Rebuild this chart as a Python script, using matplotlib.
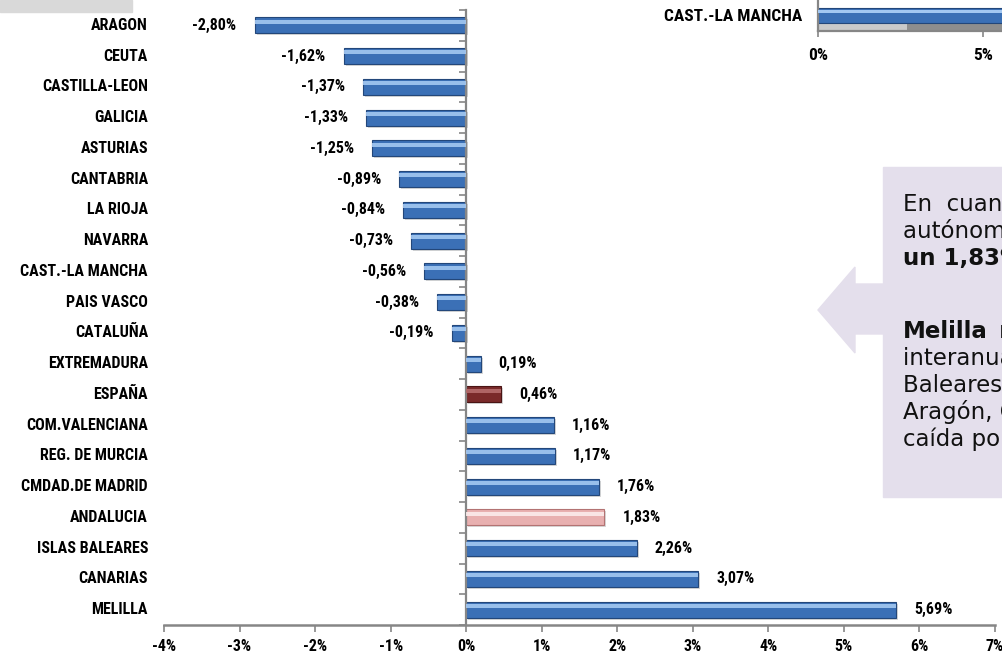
import numpy as np
import matplotlib
matplotlib.use('Agg')
import matplotlib.pyplot as plt
from matplotlib.patches import Rectangle, Polygon
from matplotlib import transforms

# data
regions = ['ARAGON', 'CEUTA', 'CASTILLA-LEON', 'GALICIA', 'ASTURIAS', 'CANTABRIA',
           'LA RIOJA', 'NAVARRA', 'CAST.-LA MANCHA', 'PAIS VASCO', 'CATALUÑA',
           'EXTREMADURA', 'ESPAÑA', 'COM.VALENCIANA', 'REG. DE MURCIA',
           'CMDAD.DE MADRID', 'ANDALUCIA', 'ISLAS BALEARES', 'CANARIAS', 'MELILLA']
variation = [-2.80, -1.62, -1.37, -1.33, -1.25, -0.89, -0.84, -0.73, -0.56, -0.38,
             -0.19, 0.19, 0.46, 1.16, 1.17, 1.76, 1.83, 2.26, 3.07, 5.69]
x_ticks = [-4, -3, -2, -1, 0, 1, 2, 3, 4, 5, 6, 7]

# partial second chart visible in the top right corner
inset_regions = ['CAST.-LA MANCHA']
inset_blue = [6.5]
inset_grey_a = [2.7]
inset_grey_b = [4.0]
inset_ticks = [0, 5]

box_lines = ['En  cuanto  a  las  comunidades',
             'autónomas, Andalucía crece',
             'un 1,83%',
             'Melilla',
             'interanual más elevada, seguida de',
             'Baleares y Canarias. Por el contrario,',
             'Aragón, Ceuta y Castilla-León',
             'caída porcentual más acusada.']
box_bold = [False, False, True, True, False, False, False, False]

W, H = 1003, 653
narrow = ['Roboto Condensed', 'Liberation Sans Narrow', 'DejaVu Sans Condensed']
grey = '#868686'
fs = 11.5

# colours per bar
bar_face = []
bar_light = []
bar_edge = []
for r in regions:
    if r == 'ESPAÑA':
        bar_face.append('#7A2A2A'); bar_light.append('#B56C6C'); bar_edge.append('#4A1414')
    elif r == 'ANDALUCIA':
        bar_face.append('#E8B0B0'); bar_light.append('#FCEBEB'); bar_edge.append('#B37373')
    else:
        bar_face.append('#3B70B6'); bar_light.append('#A3C8F2'); bar_edge.append('#23477A')


def fpos(x, y):
    # pixel position -> figure fraction
    return (x / W, 1 - y / H)


fig = plt.figure(figsize=(W / 100, H / 100), dpi=100)
fig.patch.set_facecolor('white')

ax = fig.add_axes([164 / W, 1 - 625 / H, 831 / W, 615 / H])
ypos = np.arange(len(regions))
bh = 0.52

shadow = transforms.offset_copy(ax.transData, fig=fig, x=2, y=-2, units='dots')
ax.barh(ypos, variation, height=bh, color='#BDBDBD', alpha=0.6, transform=shadow, zorder=1)
ax.barh(ypos, variation, height=bh, color=bar_face, edgecolor=bar_edge, linewidth=0.8, zorder=2)
ax.barh(ypos - 0.12, variation, height=0.13, color=bar_light, linewidth=0, alpha=0.9, zorder=3)

ax.set_xlim(-4, 7)
ax.set_ylim(len(regions) - 0.5, -0.5)

for s in ['top', 'right']:
    ax.spines[s].set_visible(False)
ax.spines['left'].set_position(('data', 0))
ax.spines['left'].set_color(grey)
ax.spines['left'].set_linewidth(1.6)
ax.spines['bottom'].set_color(grey)
ax.spines['bottom'].set_linewidth(1.8)

ax.set_yticks(np.arange(len(regions) + 1) - 0.5)
ax.set_yticklabels([])
ax.tick_params(axis='y', length=5, width=1.2, color=grey, direction='out')

ax.set_xticks(x_ticks)
ax.set_xticklabels([f'{t}%' for t in x_ticks], fontsize=fs, fontweight='bold',
                   family=narrow)
ax.tick_params(axis='x', length=5, width=1.2, color=grey, pad=5)

for i, (name, v) in enumerate(zip(regions, variation)):
    ax.annotate(name, xy=(0, i), xycoords=ax.get_yaxis_transform(), xytext=(-11.5, 0),
                textcoords='offset points', ha='right', va='center',
                fontsize=fs, fontweight='bold', family=narrow)
    lab = f'{v:.2f}'.replace('.', ',') + '%'
    off = 13 if v > 0 else -13
    ax.annotate(lab, xy=(v, i), xytext=(off, 0), textcoords='offset points',
                ha='left' if v > 0 else 'right', va='center',
                fontsize=fs, fontweight='bold', family=narrow)

# inset chart (cut by the slide edge)
ax2 = fig.add_axes([818 / W, 1 - 31 / H, 198 / W, 36 / H])
ax2.barh([-0.42], inset_grey_a, height=0.34, color='#CACACA', zorder=1)
ax2.barh([-0.42], inset_grey_b, left=inset_grey_a, height=0.34, color='#8E8E8E', zorder=1)
ax2.barh([0.1], inset_blue, height=0.66, color='#3B70B6', edgecolor='#23477A',
         linewidth=0.8, zorder=2)
ax2.barh([0.25], inset_blue, height=0.14, color='#A3C8F2', linewidth=0, zorder=3)
ax2.set_xlim(0, 6)
ax2.set_ylim(-0.6, 1.0)
ax2.set_yticks([0.1])
ax2.set_yticklabels(inset_regions, fontsize=fs + 1, fontweight='bold', family=narrow)
ax2.tick_params(axis='y', length=0, pad=11.5)
ax2.set_xticks(inset_ticks)
ax2.set_xticklabels([f'{t}%' for t in inset_ticks], fontsize=fs + 1, fontweight='bold',
                    family=narrow)
ax2.tick_params(axis='x', length=4, width=1.2, color=grey, pad=8)
for s in ['top', 'right']:
    ax2.spines[s].set_visible(False)
for s in ['left', 'bottom']:
    ax2.spines[s].set_color(grey)
    ax2.spines[s].set_linewidth(1.6)

# grey strip top left
fig.patches.append(Rectangle(fpos(0, 12), 132 / W, 12 / H, color='#D9D9D9',
                             transform=fig.transFigure, zorder=5))

# callout box with arrow
lav = '#E4DFEC'
fig.patches.append(Rectangle(fpos(883, 497), 200 / W, 330 / H, color=lav,
                             transform=fig.transFigure, zorder=5))
arrow_px = [(818, 310), (855, 267), (855, 284), (884, 284), (884, 334), (855, 334), (855, 353)]
fig.patches.append(Polygon([fpos(x, y) for x, y in arrow_px], closed=True, color=lav,
                           transform=fig.transFigure, zorder=5))

baselines = [211, 238, 265, 338, 365, 392, 419, 446]
for line, bold, yb in zip(box_lines, box_bold, baselines):
    fig.text(903 / W, 1 - yb / H, line, fontsize=16.5, family='DejaVu Sans',
             fontweight='bold' if bold else 'normal', color='#111111',
             ha='left', va='baseline', zorder=6)
fig.text(999 / W, 1 - 338 / H, 'registra', fontsize=16.5, family='DejaVu Sans',
         color='#111111', ha='left', va='baseline', zorder=6)

fig.savefig('out.png', dpi=100)
